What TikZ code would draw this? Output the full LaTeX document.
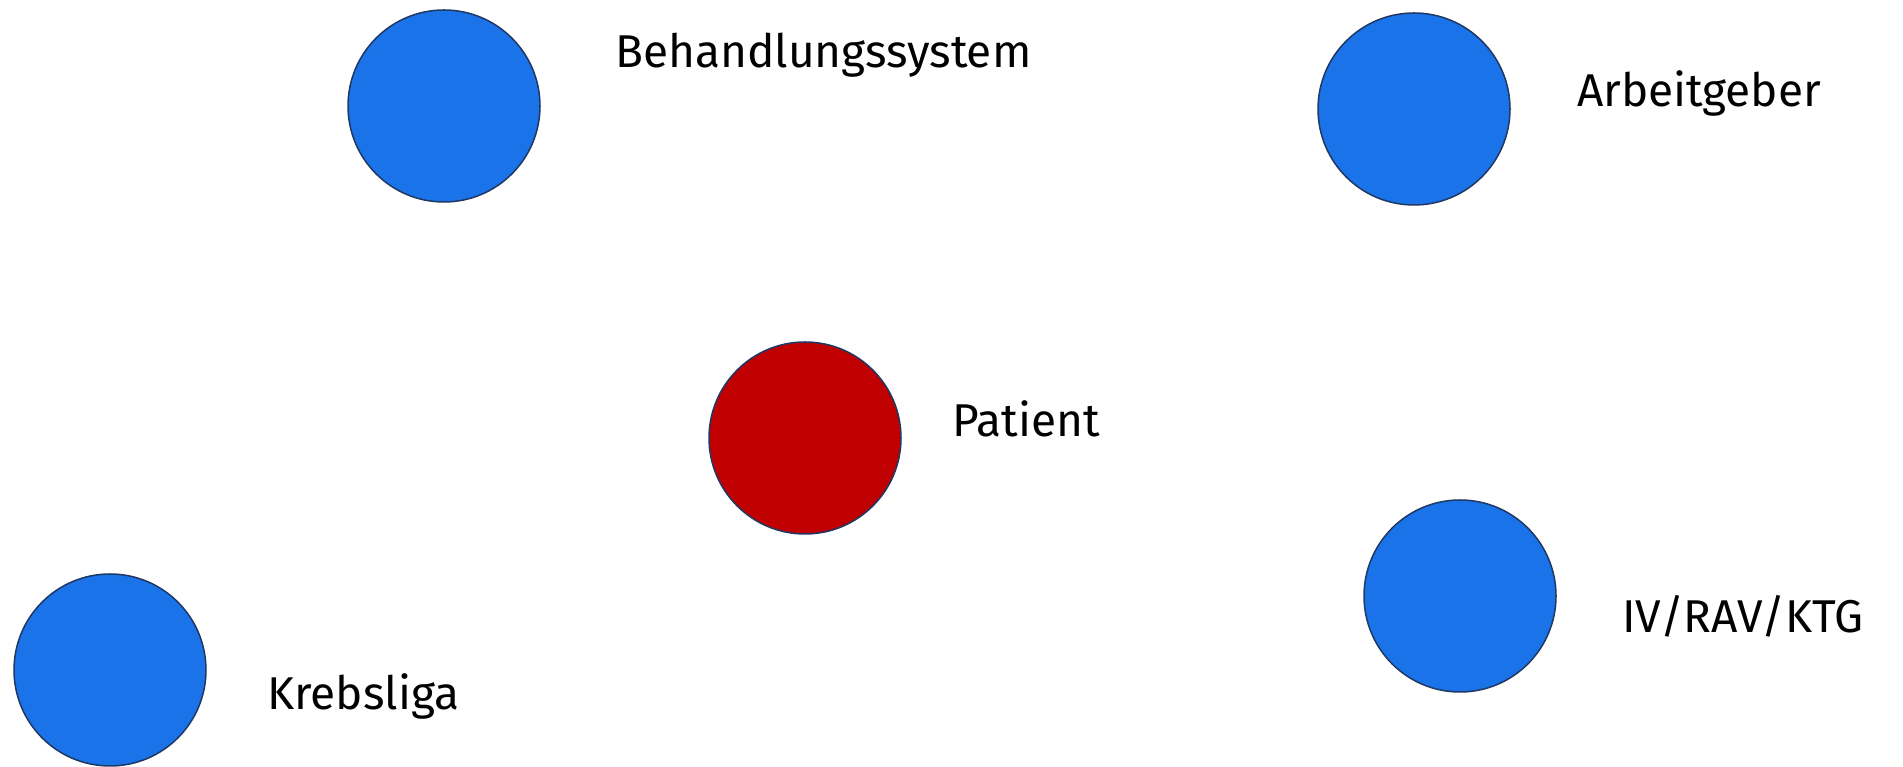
\documentclass[tikz,border=0pt]{standalone}
\usepackage{fontspec}
\setmainfont{Fira Sans}
\definecolor{partnerblue}{HTML}{1A73E8}
\definecolor{patientred}{HTML}{C00000}
\definecolor{rimblue}{HTML}{1F3864}
\tikzset{
    actor/.style={circle, draw=rimblue, line width=1.5pt, minimum size=192pt, inner sep=0pt},
    actorname/.style={anchor=base west, inner sep=0pt, font=\fontsize{46}{50}\selectfont}
}

\begin{document}
\begin{tikzpicture}[x=1pt, y=1pt]
\useasboundingbox (0, 0) rectangle (1903, 767);
\node[actor, fill=partnerblue] (behandlung) at (444, 661) {};
\node[actor, fill=partnerblue] (arbeitgeber) at (1414, 658) {};
\node[actor, fill=patientred] (patient) at (805, 329) {};
\node[actor, fill=partnerblue] (krebsliga) at (110, 97) {};
\node[actor, fill=partnerblue] (iv) at (1460, 171) {};
\node[actorname] (behandlunglabel) at (615, 699) {Behandlungssystem};
\node[actorname] (arbeitgeberlabel) at (1577, 660) {Arbeitgeber};
\node[actorname] (patientlabel) at (952, 330) {Patient};
\node[actorname] (krebsligalabel) at (267, 57) {Krebsliga};
\node[actorname] (ivlabel) at (1622, 134) {IV/RAV/KTG};
\end{tikzpicture}
\end{document}
